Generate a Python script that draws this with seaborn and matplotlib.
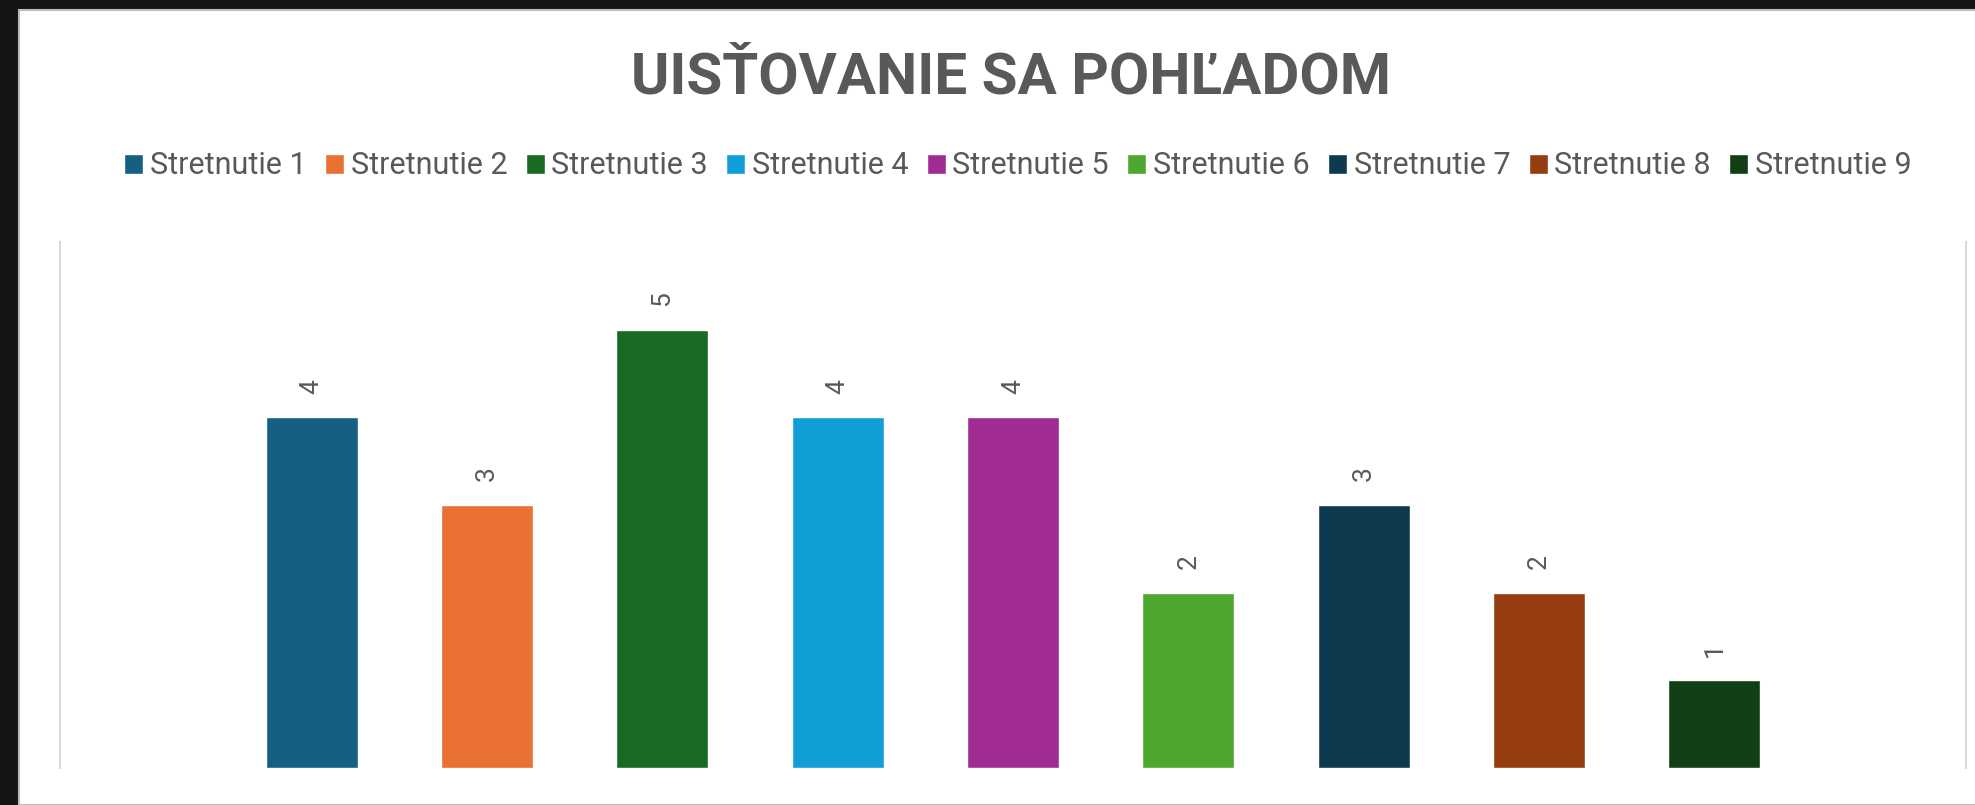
import matplotlib
matplotlib.use("Agg")
import matplotlib.pyplot as plt
from matplotlib.patches import Rectangle
import seaborn as sns
import pandas as pd

# ---- data ----
categories = ["Stretnutie 1", "Stretnutie 2", "Stretnutie 3", "Stretnutie 4", "Stretnutie 5",
              "Stretnutie 6", "Stretnutie 7", "Stretnutie 8", "Stretnutie 9"]
values = [4, 3, 5, 4, 4, 2, 3, 2, 1]
colors = ["#156082", "#E97132", "#196B24", "#0F9ED5", "#A02B93",
          "#4EA72E", "#0E3A4F", "#963D0F", "#103F16"]
title = "UISŤOVANIE SA POHĽADOM"

df = pd.DataFrame({"cat": categories, "val": values})

sns.set_theme(style="white")
plt.rcParams["font.family"] = ["Roboto", "DejaVu Sans"]

W, H = 1975, 805
fig = plt.figure(figsize=(W / 100, H / 100), dpi=100)
fig.patch.set_facecolor("#151515")
fig.add_artist(Rectangle((19 / W, 0), 1, (H - 10) / H, transform=fig.transFigure,
                         facecolor="white", edgecolor="#bdbdbd", linewidth=1.5, zorder=-10))

ax = fig.add_axes([60 / W, 37 / H, 1906 / W, 526 / H])
ax.set_facecolor("none")
sns.barplot(data=df, x="cat", y="val", hue="cat", palette=colors, dodge=False,
            width=0.525, saturation=1, ax=ax, legend=True)

for c in ax.containers:
    ax.bar_label(c, rotation=90, padding=17, fontsize=19, color="#595959")

ax.set_xlim(-1.435, 8.435 + 1.0)
ax.set_ylim(0, 6)
ax.set_xticks([])
ax.set_yticks([])
ax.set_xlabel("")
ax.set_ylabel("")
for s in ["top", "bottom"]:
    ax.spines[s].set_visible(False)
for s in ["left", "right"]:
    ax.spines[s].set_visible(True)
    ax.spines[s].set_color("#d9d9d9")
    ax.spines[s].set_linewidth(1.5)

handles, labels = ax.get_legend_handles_labels()
ax.get_legend().remove()
fig.legend(handles, labels, loc="center", bbox_to_anchor=(1018 / W, 1 - 166 / H),
           ncol=9, frameon=False, fontsize=22, labelcolor="#595959",
           handlelength=0.62, handleheight=0.62, handletextpad=0.22, columnspacing=0.6,
           borderaxespad=0, borderpad=0)

fig.text(1011 / W, 1 - 78 / H, title, ha="center", va="center", fontsize=42,
         fontweight="bold", color="#595959", family=["Roboto", "DejaVu Sans"])

fig.savefig("out.png", dpi=100, facecolor=fig.get_facecolor())
